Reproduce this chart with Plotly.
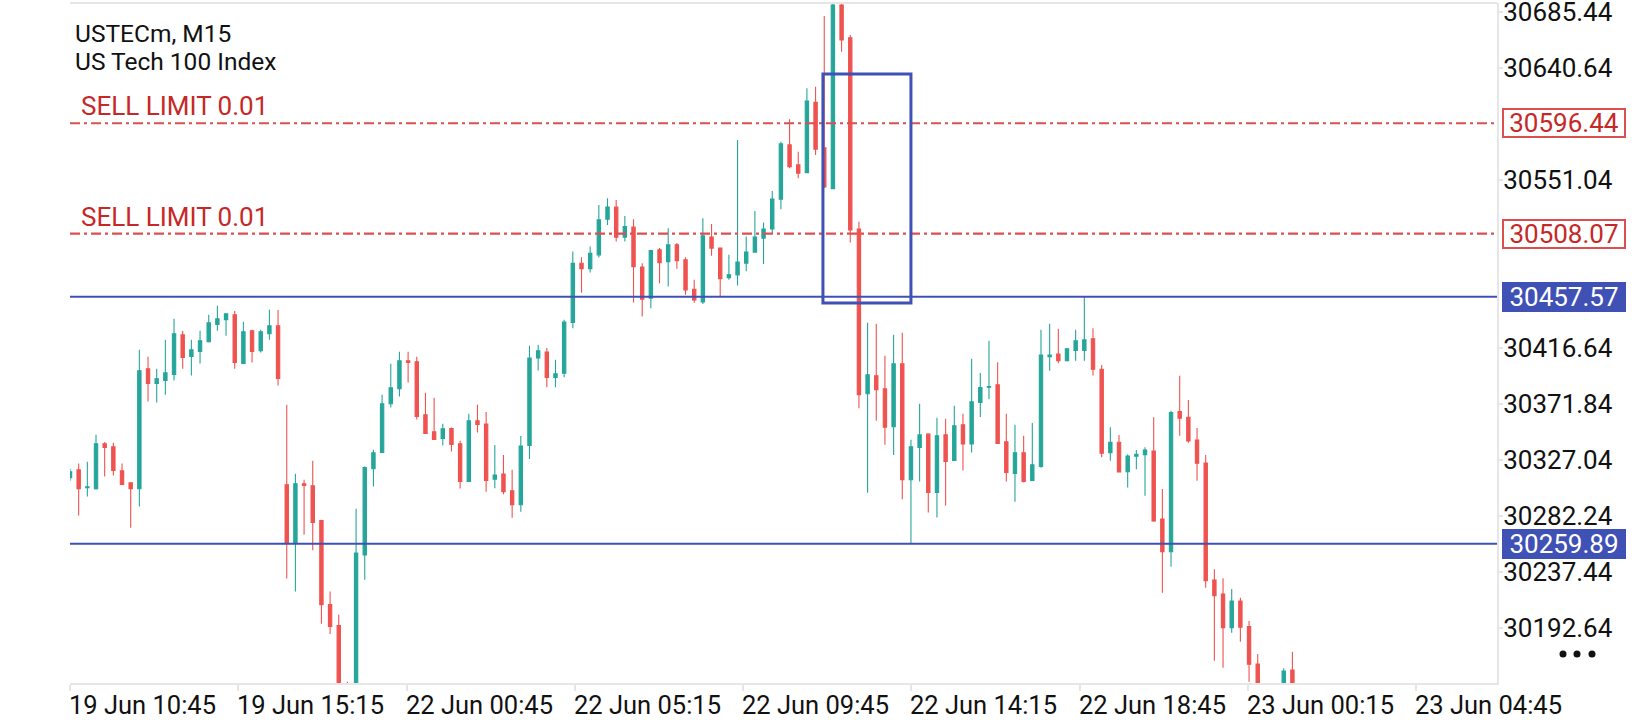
import plotly.graph_objects as go

# ---------------- data ----------------
opens = [30312.7, 30319.1, 30304.7, 30303.9, 30339.9, 30337.5, 30318.3, 30308.7, 30303.9, 30399.9,
         30388.1, 30390.5, 30395.3, 30427.1, 30409.7, 30413.7, 30421.5, 30435.3, 30439.3, 30443.1,
         30404.1, 30430.3, 30414.3, 30427.9, 30434.3, 30307.1, 30260.5, 30307.9, 30306.3, 30278.5,
         30211.1, 30194.3, 30140.0, 30112.0, 30250.9, 30319.9, 30332.9, 30371.9, 30383.9, 30406.3,
         30405.5, 30363.1, 30349.5, 30344.1, 30352.1, 30339.9, 30309.7, 30358.3, 30355.7, 30311.5,
         30315.7, 30302.3, 30291.1, 30338.5, 30408.5, 30413.3, 30392.9, 30396.3, 30436.9, 30484.4,
         30480.1, 30491.1, 30519.7, 30529.3, 30505.3, 30513.3, 30481.3, 30456.5, 30495.1, 30485.7,
         30499.1, 30487.1, 30463.6, 30453.4, 30505.3, 30496.5, 30472.9, 30475.1, 30484.4, 30493.3,
         30504.5, 30511.9, 30535.7, 30579.1, 30563.1, 30556.9, 30613.3, 30576.7, 30544.1, 30691.1,
         30664.9, 30511.7, 30379.9, 30394.3, 30383.9, 30353.5, 30403.9, 30311.1, 30336.9, 30347.6,
         30300.9, 30347.1, 30326.5, 30355.1, 30339.7, 30372.9, 30385.1, 30387.1, 30341.5, 30316.1,
         30332.7, 30310.5, 30321.7, 30409.6, 30411.7, 30406.4, 30414.6, 30414.6, 30423.9, 30399.5,
         30332.8, 30341.1, 30317.5, 30329.9, 30331.2, 30334.1, 30279.7, 30253.5, 30365.6, 30361.1,
         30342.9, 30324.5, 30230.9, 30219.6, 30192.7, 30214.0, 30193.5, 30163.6, 30135.0, 30118.0,
         30130.0, 30158.8]
highs = [30319.9, 30324.1, 30325.5, 30347.1, 30341.3, 30340.7, 30324.1, 30308.7, 30415.1, 30409.5,
         30399.9, 30423.1, 30439.9, 30430.3, 30423.1, 30430.3, 30443.1, 30450.3, 30443.9, 30446.1,
         30437.5, 30431.1, 30431.1, 30447.1, 30446.9, 30371.1, 30315.9, 30311.1, 30326.3, 30279.1,
         30221.7, 30203.1, 30149.5, 30287.9, 30321.7, 30335.1, 30379.1, 30403.9, 30413.5, 30413.5,
         30409.5, 30380.7, 30376.7, 30355.9, 30352.9, 30342.3, 30363.9, 30371.1, 30365.3, 30338.9,
         30330.9, 30319.1, 30346.1, 30418.3, 30419.1, 30416.5, 30407.1, 30439.1, 30493.7, 30489.1,
         30497.7, 30531.1, 30536.5, 30535.1, 30522.3, 30519.7, 30484.4, 30495.1, 30496.5, 30512.5,
         30500.5, 30489.1, 30471.1, 30520.4, 30515.9, 30496.5, 30491.1, 30583.1, 30505.8, 30526.3,
         30517.0, 30542.3, 30581.7, 30599.7, 30573.7, 30624.5, 30625.7, 30682.3, 30694.0, 30691.9,
         30667.1, 30517.7, 30436.8, 30435.9, 30410.3, 30427.1, 30428.8, 30343.1, 30371.9, 30348.4,
         30360.7, 30359.9, 30370.3, 30363.9, 30407.9, 30396.5, 30422.3, 30405.1, 30363.9, 30355.1,
         30346.4, 30356.5, 30431.1, 30435.9, 30431.9, 30416.5, 30431.1, 30457.2, 30432.3, 30402.9,
         30353.1, 30346.9, 30331.5, 30334.9, 30337.1, 30361.1, 30303.7, 30366.4, 30394.4, 30374.9,
         30352.5, 30330.9, 30239.4, 30232.2, 30223.6, 30216.7, 30198.0, 30171.6, 30145.0, 30140.0,
         30160.2, 30173.4]
lows = [30310.3, 30282.5, 30297.7, 30303.1, 30313.7, 30314.5, 30307.3, 30272.7, 30289.7, 30373.7,
        30372.9, 30379.1, 30390.5, 30399.9, 30394.5, 30404.1, 30420.9, 30430.3, 30426.3, 30399.9,
        30404.1, 30404.9, 30412.9, 30423.1, 30386.5, 30232.1, 30221.7, 30267.1, 30254.6, 30195.9,
        30187.7, 30131.0, 30098.0, 30106.0, 30231.1, 30305.7, 30332.9, 30368.9, 30377.7, 30388.9,
        30359.4, 30348.1, 30343.3, 30338.5, 30333.7, 30304.1, 30309.7, 30348.9, 30301.5, 30304.2,
        30299.4, 30280.7, 30285.5, 30327.7, 30398.5, 30385.1, 30385.1, 30393.1, 30432.3, 30460.8,
        30476.9, 30488.9, 30515.1, 30501.8, 30501.8, 30452.9, 30441.7, 30448.4, 30468.4, 30465.8,
        30479.9, 30459.1, 30452.7, 30451.8, 30490.4, 30457.6, 30471.1, 30466.5, 30477.9, 30493.3,
        30483.7, 30508.5, 30527.7, 30560.5, 30552.5, 30556.9, 30571.1, 30544.4, 30544.1, 30653.7,
        30500.9, 30368.3, 30300.7, 30358.4, 30339.1, 30330.9, 30295.4, 30260.0, 30309.7, 30284.9,
        30280.9, 30290.5, 30326.5, 30318.5, 30332.9, 30361.3, 30375.5, 30340.1, 30309.7, 30293.5,
        30308.9, 30310.5, 30320.7, 30398.4, 30404.3, 30405.7, 30406.4, 30406.4, 30394.5, 30329.1,
        30326.3, 30316.8, 30304.8, 30319.5, 30298.3, 30277.5, 30220.7, 30241.5, 30346.4, 30340.8,
        30310.3, 30224.7, 30166.2, 30160.6, 30188.7, 30181.5, 30149.4, 30125.0, 30110.0, 30105.0,
        30122.0, 30130.0]
closes = [30317.5, 30303.9, 30305.5, 30339.9, 30336.9, 30318.5, 30307.3, 30303.9, 30398.3, 30388.1,
          30391.9, 30396.7, 30427.9, 30408.9, 30415.1, 30422.3, 30436.7, 30439.9, 30443.9, 30404.9,
          30429.5, 30413.7, 30429.5, 30434.3, 30392.1, 30260.5, 30307.9, 30306.5, 30276.9, 30211.1,
          30193.7, 30140.0, 30112.0, 30252.4, 30320.9, 30332.7, 30371.9, 30384.7, 30406.3, 30404.9,
          30361.8, 30348.1, 30343.3, 30351.9, 30339.3, 30309.7, 30358.3, 30355.3, 30310.5, 30314.9,
          30301.5, 30291.1, 30338.1, 30408.5, 30414.3, 30392.9, 30395.9, 30437.3, 30484.4, 30480.1,
          30492.4, 30519.1, 30529.3, 30505.3, 30513.8, 30481.7, 30455.7, 30494.5, 30484.9, 30499.1,
          30486.5, 30463.1, 30455.1, 30506.3, 30496.5, 30472.1, 30475.1, 30485.3, 30493.3, 30505.3,
          30511.7, 30535.7, 30579.9, 30561.7, 30556.5, 30614.3, 30575.7, 30545.5, 30691.1, 30663.1,
          30511.1, 30379.1, 30395.1, 30383.1, 30353.1, 30403.9, 30311.1, 30337.5, 30347.1, 30300.9,
          30346.3, 30325.8, 30354.3, 30339.7, 30373.5, 30384.9, 30385.6, 30340.1, 30316.9, 30332.7,
          30309.7, 30323.1, 30410.9, 30410.9, 30406.4, 30415.9, 30422.3, 30423.1, 30399.5, 30332.3,
          30341.1, 30317.3, 30330.1, 30331.5, 30334.9, 30278.1, 30253.5, 30364.8, 30360.3, 30342.1,
          30324.3, 30230.3, 30218.3, 30192.7, 30214.0, 30193.0, 30163.4, 30135.0, 30118.0, 30130.0,
          30158.0, 30138.0]

time_labels = ["19 Jun 10:45", "19 Jun 15:15", "22 Jun 00:45", "22 Jun 05:15", "22 Jun 09:45",
               "22 Jun 14:15", "22 Jun 18:45", "23 Jun 00:15", "23 Jun 04:45"]
price_ticks = [30685.44, 30640.64, 30551.04, 30416.64, 30371.84, 30327.04, 30282.24, 30237.44, 30192.64]
sell_limit_prices = [30596.44, 30508.07]
sell_limit_labels = ["SELL LIMIT 0.01", "SELL LIMIT 0.01"]
level_prices = [30457.57, 30259.89]
rect_bars = [86.85, 97.0]
rect_prices = [30452.6, 30635.9]
symbol_lines = ["USTECm, M15", "US Tech 100 Index"]

# ---------------- style / layout constants ----------------
TEAL = "#26A69A"
RED = "#EF5350"
BLUE = "#3F51B5"
DASH_RED = "#DD4F4F"
TEXT_RED = "#C62828"
BORDER = "#E6E6E6"
FONT = "Roboto"
LABEL_STEP = 19.41
X_RANGE = [0, 164.6]
Y_RANGE = [30148.4, 30692.7]
ML, MR, MT, MB = 70, 143, 3, 37
W, H = 1640, 720
PW, PH = W - ML - MR, H - MT - MB

fig = go.Figure()
fig.add_trace(go.Candlestick(
    x=list(range(len(opens))), open=opens, high=highs, low=lows, close=closes,
    increasing=dict(line=dict(color=TEAL, width=1.1), fillcolor=TEAL),
    decreasing=dict(line=dict(color=RED, width=1.1), fillcolor=RED),
    whiskerwidth=0, showlegend=False, hoverinfo="skip"))

shapes = []
# top border
shapes.append(dict(type="line", xref="paper", yref="paper", x0=0, x1=1, y0=1, y1=1,
                   line=dict(color=BORDER, width=2)))
for p in sell_limit_prices:
    shapes.append(dict(type="line", xref="paper", yref="y", x0=0, x1=1, y0=p, y1=p,
                       line=dict(color=DASH_RED, width=2.2, dash="10px,4px,3px,4px")))
for p in level_prices:
    shapes.append(dict(type="line", xref="paper", yref="y", x0=0, x1=1, y0=p, y1=p,
                       line=dict(color=BLUE, width=2)))
shapes.append(dict(type="rect", xref="x", yref="y", x0=rect_bars[0], x1=rect_bars[1],
                   y0=rect_prices[0], y1=rect_prices[1], line=dict(color=BLUE, width=3)))
# menu dots
for cx in (1563, 1577, 1592):
    px = (cx - ML) / PW
    py = (H - MB - 654) / PH
    shapes.append(dict(type="circle", xref="paper", yref="paper",
                       x0=px - 3.5 / PW, x1=px + 3.5 / PW, y0=py - 3.5 / PH, y1=py + 3.5 / PH,
                       fillcolor="#111111", line=dict(width=0)))

ann = []
for k, t in enumerate(symbol_lines):
    ann.append(dict(text=t, xref="paper", yref="paper", x=(73 - ML) / PW,
                    y=(H - MB - (33.5 + 28.0 * k)) / PH, xanchor="left", yanchor="middle",
                    showarrow=False, font=dict(family=FONT, size=24.5, color="#111111")))
for p, t in zip(sell_limit_prices, sell_limit_labels):
    ann.append(dict(text=t, xref="paper", yref="y", x=(79 - ML) / PW, y=p, yshift=17,
                    xanchor="left", yanchor="middle", showarrow=False,
                    font=dict(family=FONT, size=26, color=TEXT_RED)))
    ann.append(dict(text="%.2f" % p, xref="paper", yref="y", x=1, xshift=5, y=p,
                    xanchor="left", yanchor="middle", showarrow=False, align="center",
                    width=118, height=24, borderpad=1, borderwidth=2,
                    bordercolor=DASH_RED, bgcolor="white",
                    font=dict(family=FONT, size=26, color=TEXT_RED)))
for p in level_prices:
    ann.append(dict(text="%.2f" % p, xref="paper", yref="y", x=1, xshift=5, y=p,
                    xanchor="left", yanchor="middle", showarrow=False, align="center",
                    width=118, height=24, borderpad=1, borderwidth=2,
                    bordercolor=BLUE, bgcolor=BLUE,
                    font=dict(family=FONT, size=26, color="white")))
for k, t in enumerate(time_labels):
    ann.append(dict(text=t, xref="x", yref="paper", x=k * LABEL_STEP, y=0, yshift=-22, xshift=-3,
                    xanchor="left", yanchor="middle", showarrow=False,
                    font=dict(family=FONT, size=25.5, color="#111111")))

fig.update_layout(
    width=W, height=H, margin=dict(l=ML, r=MR, t=MT, b=MB, autoexpand=False),
    paper_bgcolor="white", plot_bgcolor="white",
    boxgap=0.45, boxgroupgap=0.3,
    shapes=shapes, annotations=ann, showlegend=False,
    font=dict(family=FONT),
    xaxis=dict(range=X_RANGE, rangeslider=dict(visible=False), showgrid=False, zeroline=False,
               tickvals=[k * LABEL_STEP for k in range(len(time_labels))], showticklabels=False,
               ticks="outside", ticklen=6, tickwidth=2, tickcolor=BORDER, automargin=False,
               showline=True, linecolor=BORDER, linewidth=2, fixedrange=True),
    yaxis=dict(range=Y_RANGE, side="right", showgrid=False, zeroline=False,
               tickvals=price_ticks, ticktext=["%.2f" % v for v in price_ticks],
               ticks="outside", ticklen=4, tickwidth=2, tickcolor=BORDER,
               ticklabeloverflow="allow", ticklabelstandoff=-5, automargin=False,
               showline=True, linecolor=BORDER, linewidth=2,
               tickfont=dict(family=FONT, size=26, color="#111111"), fixedrange=True),
)

fig.write_html("out.html", config={"displayModeBar": False, "staticPlot": True},
               post_script="document.body.style.margin='0px';document.body.style.overflow='hidden';")
